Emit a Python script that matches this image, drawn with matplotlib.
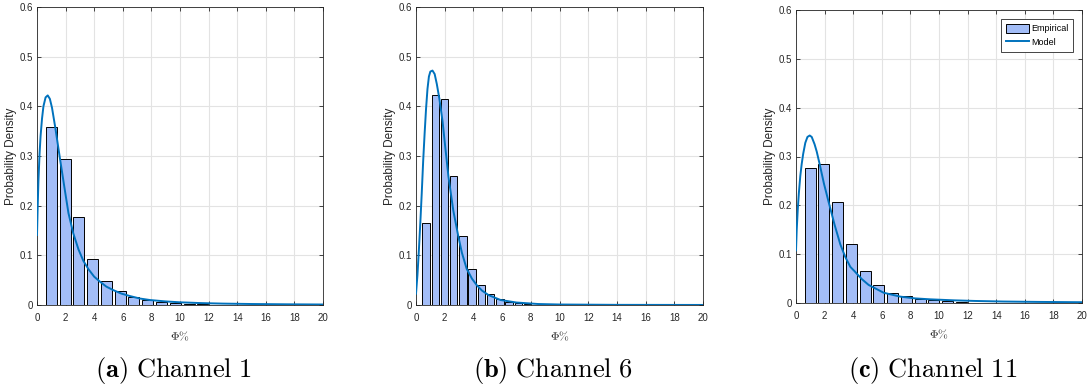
import matplotlib.pyplot as plt
from matplotlib.patches import Patch
from matplotlib.lines import Line2D
import numpy as np

plt.rcParams['mathtext.fontset'] = 'cm'

# histogram bars (bin centre of first bar, bin spacing, heights)
ch1_first, ch1_step = 1.00, 0.963
ch1_heights = [0.358, 0.294, 0.178, 0.092, 0.049, 0.0275, 0.0155, 0.0094,
               0.0055, 0.0033, 0.002, 0.0013]
ch6_first, ch6_step = 0.70, 0.643
ch6_heights = [0.165, 0.422, 0.415, 0.259, 0.138, 0.073, 0.040, 0.0215,
               0.0115, 0.0065, 0.0035, 0.002, 0.001]
ch11_first, ch11_step = 0.98, 0.963
ch11_heights = [0.2765, 0.285, 0.2075, 0.120, 0.0655, 0.037, 0.021, 0.0135,
                0.008, 0.0055, 0.004, 0.003]

# model curves
ch1_model_x = [0, 0.05, 0.1, 0.18, 0.25, 0.35, 0.45, 0.6, 0.75, 0.9, 1.05, 1.28,
               1.61, 1.9, 2.2, 2.54, 2.9, 3.24, 3.6, 4.0, 4.4, 4.85, 5.33, 5.9,
               6.5, 7.2, 7.9, 9.0, 10, 11.5, 13, 15, 17.5, 20]
ch1_model_y = [0.141, 0.2, 0.25, 0.305, 0.34, 0.375, 0.40, 0.418, 0.422, 0.415,
               0.397, 0.357, 0.294, 0.24, 0.185, 0.144, 0.112, 0.089, 0.072,
               0.057, 0.047, 0.037, 0.030, 0.023, 0.018, 0.013, 0.010, 0.0072,
               0.0054, 0.0038, 0.0028, 0.002, 0.0014, 0.001]
ch6_model_x = [0, 0.1, 0.2, 0.3, 0.4, 0.5, 0.6, 0.7, 0.8, 0.9, 1.0, 1.15, 1.3,
               1.45, 1.63, 1.85, 2.05, 2.26, 2.6, 2.95, 3.2, 3.53, 3.9, 4.23,
               4.6, 5.05, 5.9, 7.0, 8.5, 10, 14, 20]
ch6_model_y = [0.023, 0.06, 0.11, 0.165, 0.225, 0.29, 0.345, 0.395, 0.435,
               0.46, 0.47, 0.472, 0.465, 0.445, 0.415, 0.37, 0.315, 0.259,
               0.19, 0.138, 0.105, 0.073, 0.053, 0.04, 0.029, 0.02, 0.01,
               0.005, 0.002, 0.001, 0.0003, 0.0001]
ch11_model_x = [0, 0.05, 0.12, 0.2, 0.3, 0.4, 0.5, 0.65, 0.8, 0.96, 1.1, 1.3,
                1.45, 1.65, 1.95, 2.28, 2.7, 3.1, 3.45, 3.8, 4.08, 4.6, 5.08,
                6.13, 7.3, 8.3, 9.4, 11, 12.5, 14.5, 17, 20]
ch11_model_y = [0.108, 0.15, 0.19, 0.225, 0.26, 0.285, 0.305, 0.328, 0.34,
                0.343, 0.34, 0.325, 0.31, 0.285, 0.245, 0.207, 0.16, 0.12,
                0.094, 0.074, 0.0655, 0.049, 0.037, 0.021, 0.013, 0.0095,
                0.0075, 0.0055, 0.0042, 0.003, 0.0022, 0.0016]

panels = [
    ('a', 'Channel 1', ch1_first, ch1_step, ch1_heights, ch1_model_x, ch1_model_y),
    ('b', 'Channel 6', ch6_first, ch6_step, ch6_heights, ch6_model_x, ch6_model_y),
    ('c', 'Channel 11', ch11_first, ch11_step, ch11_heights, ch11_model_x, ch11_model_y),
]

y_ticks = [0, 0.1, 0.2, 0.3, 0.4, 0.5, 0.6]
y_tick_labels = ['0', '0.1', '0.2', '0.3', '0.4', '0.5', '0.6']
x_ticks = list(range(0, 21, 2))

W, H = 1092, 391
boxes = [(37, 7, 323, 305), (416, 7, 703, 305), (796, 10, 1082, 303)]

bar_color = '#a3bdf7'
line_color = '#0072bd'
ax_color = '#262626'

fig = plt.figure(figsize=(W / 100, H / 100), dpi=100)
for (tag, name, first, step, heights, mx, my), (l, t, r, b) in zip(panels, boxes):
    ax = fig.add_axes([l / W, 1 - b / H, (r - l) / W, (b - t) / H])
    centers = first + step * np.arange(len(heights))
    ax.bar(centers, heights, width=step * 0.8, color=bar_color,
           edgecolor='black', linewidth=0.7, zorder=2)
    ax.plot(mx, my, color=line_color, linewidth=1.4, zorder=3)

    ax.set_xlim(0, 20)
    ax.set_ylim(0, 0.6)
    ax.set_xticks(x_ticks)
    ax.set_xticklabels([str(v) for v in x_ticks])
    ax.set_yticks(y_ticks)
    ax.set_yticklabels(y_tick_labels)
    ax.grid(True, color='#e3e3e3', linewidth=0.8, zorder=0)
    ax.set_axisbelow(True)
    ax.tick_params(direction='in', length=3, width=0.6, colors=ax_color,
                   labelsize=7, top=True, right=True)
    ax.tick_params(axis='x', pad=6)
    ax.tick_params(axis='y', pad=3)
    for lab in ax.get_xticklabels() + ax.get_yticklabels():
        lab.set_fontfamily('Liberation Sans')
    for s in ax.spines.values():
        s.set_color(ax_color)
        s.set_linewidth(0.6)
    ax.set_ylabel('Probability Density', fontsize=8.5, color=ax_color,
                  fontfamily='Liberation Sans', labelpad=2)
    ax.set_xlabel(r'$\Phi\%$', fontsize=8.5, color=ax_color, labelpad=5)

    cx = ((l + r) / 2 - 6.5) / W
    fig.text(cx, 1 - 370 / H, r'$\mathbf{(%s)}\ \mathrm{%s}$' % (tag, name.replace(' ', r'\ ')),
             fontsize=19, ha='center', va='center')

    if tag == 'c':
        handles = [Patch(facecolor=bar_color, edgecolor='black', linewidth=0.7),
                   Line2D([], [], color=line_color, linewidth=1.4)]
        leg = ax.legend(handles, ['Empirical', 'Model'], loc='upper right',
                        fancybox=False, edgecolor=ax_color,
                        framealpha=1, borderaxespad=1.0, handlelength=2.5,
                        handleheight=1.1, handletextpad=0.2, borderpad=0.55,
                        labelspacing=0.45,
                        prop={'family': ['Liberation Sans Narrow', 'Liberation Sans'], 'size': 6.5})
        leg.get_frame().set_linewidth(0.6)

fig.savefig('out.png', dpi=100)
